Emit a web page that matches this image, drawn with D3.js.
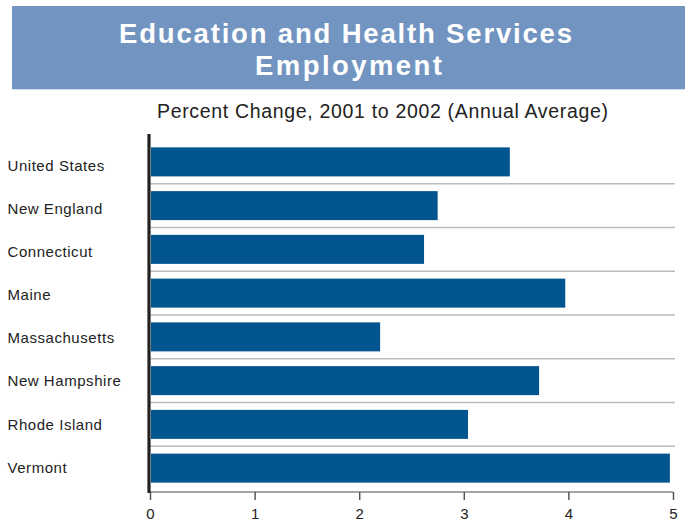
<!DOCTYPE html>
<html>
<head>
<meta charset="utf-8">
<script src="https://cdn.jsdelivr.net/npm/d3@7"></script>
<style>
  html, body { margin: 0; padding: 0; background: #fff; }
  svg { display: block; font-family: "Liberation Sans", Arial, Helvetica, sans-serif; }
</style>
</head>
<body>
<svg id="chart" width="695" height="522"></svg>
<script>
// Percent change in education and health services employment, 2001 to 2002
const regions = ["United States", "New England", "Connecticut", "Maine",
                 "Massachusetts", "New Hampshire", "Rhode Island", "Vermont"];
const pctChange = [3.44, 2.75, 2.62, 3.97, 2.20, 3.72, 3.04, 4.97];
const xTicks = [0, 1, 2, 3, 4, 5];
const titleLines = ["Education and Health Services", "Employment"];
const subtitle = "Percent Change, 2001 to 2002 (Annual Average)";

const data = regions.map((r, i) => ({ region: r, value: pctChange[i] }));

const svg = d3.select("#chart");

// Header band
svg.append("rect")
  .attr("x", 12).attr("y", 6)
  .attr("width", 673).attr("height", 83.3)
  .attr("fill", "#7294c1");

const titleBaselines = [42.5, 74.5];
const titleWidths = [453, 187];
titleLines.forEach((t, i) => {
  svg.append("text")
    .attr("x", 345.5 + i * 3).attr("y", titleBaselines[i])
    .attr("text-anchor", "middle")
    .attr("fill", "#fff")
    .attr("font-size", 27.5)
    .attr("font-weight", "bold")
    .attr("textLength", titleWidths[i])
    .attr("lengthAdjust", "spacing")
    .text(t);
});

svg.append("text")
  .attr("x", 382.5).attr("y", 118.3)
  .attr("text-anchor", "middle")
  .attr("fill", "#222")
  .attr("font-size", 19.5)
  .attr("textLength", 451)
  .attr("lengthAdjust", "spacing")
  .text(subtitle);

// Scales
const x = d3.scaleLinear().domain([0, 5]).range([150, 673]);
const y = d3.scaleBand()
  .domain(regions)
  .range([140, 490])
  .paddingInner(0.337)
  .paddingOuter(0.1685);
const labelY = d3.scalePoint().domain(regions).range([165.8, 467.2]);

// Separator lines between rows
const step = y.step();
const gap = step - y.bandwidth();
svg.append("g")
  .selectAll("line")
  .data(regions.slice(0, -1))
  .join("line")
  .attr("x1", 150).attr("x2", 675)
  .attr("y1", d => y(d) + y.bandwidth() + gap / 2)
  .attr("y2", d => y(d) + y.bandwidth() + gap / 2)
  .attr("stroke", "#bdbdbd")
  .attr("stroke-width", 1.6);

// Bars
svg.append("g")
  .selectAll("rect")
  .data(data)
  .join("rect")
  .attr("x", x(0) + 1)
  .attr("y", d => y(d.region))
  .attr("width", d => x(d.value) - x(0) - 1)
  .attr("height", y.bandwidth())
  .attr("fill", "#02558f");

// Category labels
svg.append("g")
  .selectAll("text")
  .data(regions)
  .join("text")
  .attr("x", 7.5)
  .attr("y", d => labelY(d))
  .attr("dy", "0.36em")
  .attr("fill", "#222")
  .attr("font-size", 15)
  .attr("letter-spacing", 0.55)
  .text(d => d);

// Bottom axis
const xAxis = svg.append("g")
  .attr("transform", "translate(0,492)")
  .call(d3.axisBottom(x).tickValues(xTicks).tickSize(8).tickPadding(8).tickFormat(d3.format("d")));
xAxis.select(".domain")
  .attr("d", `M${x(0) - 2},0H${x(5)}`)
  .attr("stroke", "#888")
  .attr("stroke-width", 1.5);
xAxis.selectAll(".tick line").attr("stroke", "#555").attr("stroke-width", 1.5);
xAxis.selectAll(".tick text")
  .attr("fill", "#222")
  .attr("font-size", 15)
  .attr("font-family", "Liberation Sans, Arial, sans-serif");

// Vertical baseline at zero
svg.append("line")
  .attr("x1", x(0) - 1).attr("x2", x(0) - 1)
  .attr("y1", 134).attr("y2", 493)
  .attr("stroke", "#222")
  .attr("stroke-width", 3.2);
</script>
</body>
</html>
